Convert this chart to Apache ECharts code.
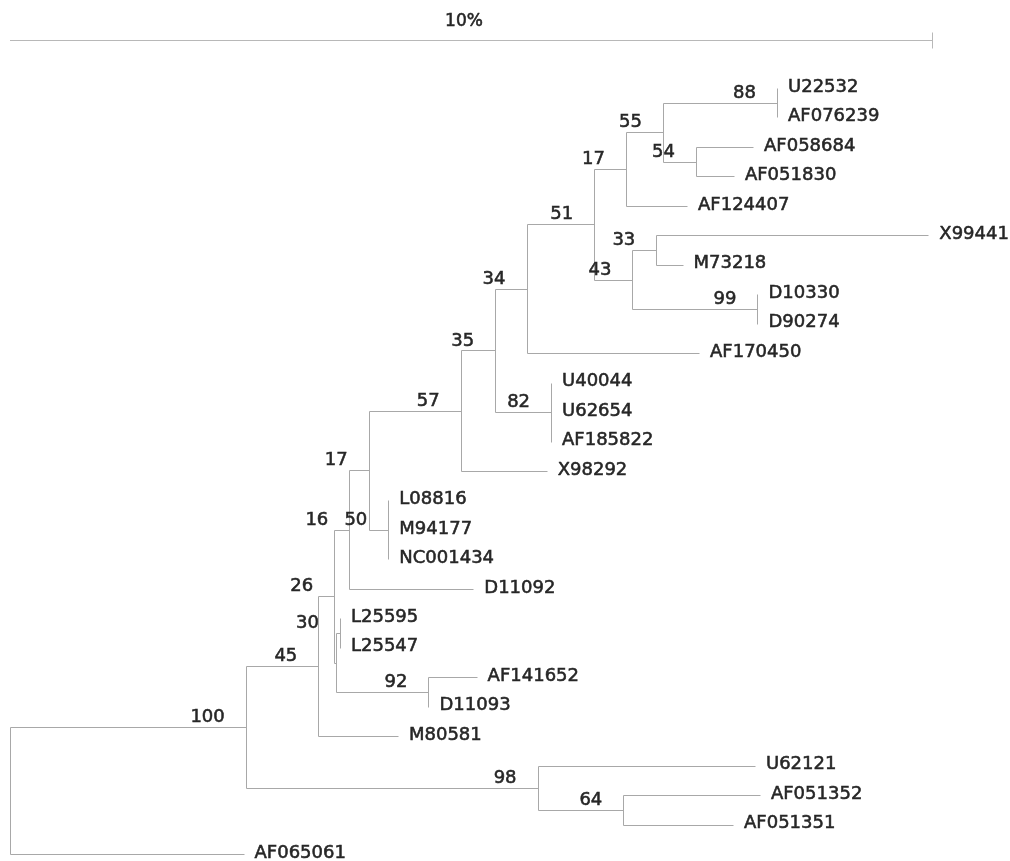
<!DOCTYPE html>
<html>
<head>
<meta charset="utf-8">
<script src="https://cdn.jsdelivr.net/npm/echarts@6/dist/echarts.min.js"></script>
<style>
html,body{margin:0;padding:0;background:#ffffff;}
#chart{width:1010px;height:861px;}
</style>
</head>
<body>
<div id="chart"></div>
<script>
// ---- DATA ----
// Leaves, top to bottom
const leafNames = ['U22532','AF076239','AF058684','AF051830','AF124407','X99441','M73218','D10330','D90274','AF170450','U40044','U62654','AF185822','X98292','L08816','M94177','NC001434','D11092','L25595','L25547','AF141652','D11093','M80581','U62121','AF051352','AF051351','AF065061'];

// Every node of the tree, its parent and its distance from the root (% divergence)
const nodeIds = ['root','n100','AF065061','n45','n98','n26','M80581','n16','nB','n17b','D11092','n57','n50','L08816','M94177','NC001434','n35','X98292','n34','n82','U40044','U62654','AF185822','n51','AF170450','n17a','n43','n55','AF124407','n88','n54','U22532','AF076239','AF058684','AF051830','n33','n99','X99441','M73218','D10330','D90274','n30','n92','L25595','L25547','AF141652','D11093','U62121','n64','AF051352','AF051351'];
const nodeParents = [null,'root','root','n100','n100','n45','n45','n26','n26','n16','n16','n17b','n17b','n50','n50','n50','n57','n57','n35','n35','n82','n82','n82','n34','n34','n51','n51','n17a','n17a','n55','n55','n88','n88','n54','n54','n43','n43','n33','n33','n99','n99','nB','nB','n30','n30','n92','n92','n98','n98','n64','n64'];
const nodeDepths = [0,2.557,2.533,3.344,5.722,3.517,4.208,3.680,3.533,3.890,5.025,4.888,4.103,4.103,4.103,4.103,5.262,5.821,5.602,5.868,5.868,5.868,5.868,6.337,7.473,6.681,6.750,7.082,7.343,8.319,7.440,8.319,8.319,8.059,7.852,7.010,8.107,9.960,7.294,8.107,8.107,3.579,4.539,3.579,3.579,5.061,4.539,8.080,6.652,8.134,7.842];

// Bootstrap support values
const bootstrapNodes = ['n100','n45','n98','n26','n16','n17b','n57','n50','n35','n34','n82','n51','n17a','n55','n88','n54','n43','n33','n99','n30','n92','n64'];
const bootstrapValues = [100,45,98,26,16,17,57,50,35,34,82,51,17,55,88,54,43,33,99,30,92,64];

// Scale bar
const scaleBarLength = 10;
const scaleBarLabel = '10%';

// ---- BUILD ----
const depthOf = {}, parentOf = {}, children = {};
nodeIds.forEach((id, i) => {
  depthOf[id] = nodeDepths[i];
  parentOf[id] = nodeParents[i];
  if (nodeParents[i]) (children[nodeParents[i]] = children[nodeParents[i]] || []).push(id);
});
const yOf = {};
function computeY(id) {
  if (yOf[id] !== undefined) return yOf[id];
  const li = leafNames.indexOf(id);
  if (li >= 0) return (yOf[id] = li);
  const ys = children[id].map(computeY);
  return (yOf[id] = (Math.min(...ys) + Math.max(...ys)) / 2);
}
nodeIds.forEach(computeY);

const segments = [];
nodeIds.forEach(id => {
  const p = parentOf[id];
  if (p) segments.push([depthOf[p], yOf[id], depthOf[id], yOf[id]]);
  if (children[id]) {
    const ys = children[id].map(c => yOf[c]);
    segments.push([depthOf[id], Math.min(...ys), depthOf[id], Math.max(...ys)]);
  }
});
const leafData = leafNames.map(n => [depthOf[n], yOf[n], n]);
const bootData = bootstrapNodes.map((n, i) => [depthOf[n], yOf[n], String(bootstrapValues[i])]);

// layout constants (style)
const FONT = '"DejaVu Sans", sans-serif';
const TEXT_COLOR = '#262626';
const LINE_COLOR = '#a8a8a8';
const scaleBarRow = -1.63;

function textStyle(text, align, size) {
  return { text: text, fill: TEXT_COLOR, stroke: TEXT_COLOR, lineWidth: 0.55,
           fontSize: size, fontFamily: FONT,
           align: align, verticalAlign: 'middle', textAlign: align, textVerticalAlign: 'middle' };
}

function lineItem(params, api) {
  const p1 = api.coord([api.value(0), api.value(1)]);
  const p2 = api.coord([api.value(2), api.value(3)]);
  return {
    type: 'line',
    shape: { x1: Math.round(p1[0]) + 0.5, y1: Math.round(p1[1]) + 0.5, x2: Math.round(p2[0]) + 0.5, y2: Math.round(p2[1]) + 0.5 },
    style: { stroke: LINE_COLOR, lineWidth: 1 }
  };
}

const chart = echarts.init(document.getElementById('chart'), null, { renderer: 'canvas' });
chart.setOption({
  animation: false,
  backgroundColor: '#ffffff',
  grid: { left: 10, right: 78, top: 88, bottom: 7 },
  xAxis: { type: 'value', min: 0, max: scaleBarLength, show: false },
  yAxis: { type: 'value', min: 0, max: leafNames.length - 1, inverse: true, show: false },
  series: [
    {
      type: 'custom', clip: false, silent: true,
      encode: { x: [0, 2], y: [1, 3] },
      data: segments,
      renderItem: lineItem
    },
    {
      type: 'custom', clip: false, silent: true,
      encode: { x: 0, y: 1 },
      data: leafData,
      renderItem(params, api) {
        const p = api.coord([api.value(0), api.value(1)]);
        return { type: 'text', x: p[0] + 11, y: p[1] - 1, style: textStyle(leafData[params.dataIndex][2], 'left', 18) };
      }
    },
    {
      type: 'custom', clip: false, silent: true,
      encode: { x: 0, y: 1 },
      data: bootData,
      renderItem(params, api) {
        const p = api.coord([api.value(0), api.value(1)]);
        return { type: 'text', x: p[0] - 21, y: p[1] - 9.5, style: textStyle(bootData[params.dataIndex][2], 'right', 18) };
      }
    },
    {
      type: 'custom', clip: false, silent: true,
      encode: { x: [0, 2], y: 1 },
      data: [[0, scaleBarRow, scaleBarLength, scaleBarRow]],
      renderItem(params, api) {
        const p1 = api.coord([api.value(0), api.value(1)]);
        const p2 = api.coord([api.value(2), api.value(3)]);
        const y = Math.round(p1[1]) + 0.5;
        return {
          type: 'group',
          children: [
            { type: 'line', shape: { x1: p1[0], y1: y, x2: p2[0], y2: y }, style: { stroke: '#b8b8b8', lineWidth: 1 } },
            { type: 'line', shape: { x1: Math.round(p2[0]) + 0.5, y1: y - 8, x2: Math.round(p2[0]) + 0.5, y2: y + 8 }, style: { stroke: '#b8b8b8', lineWidth: 1 } },
            { type: 'text', x: (p1[0] + p2[0]) / 2 - 7, y: y - 19, style: textStyle(scaleBarLabel, 'center', 17) }
          ]
        };
      }
    }
  ]
});
</script>
</body>
</html>
